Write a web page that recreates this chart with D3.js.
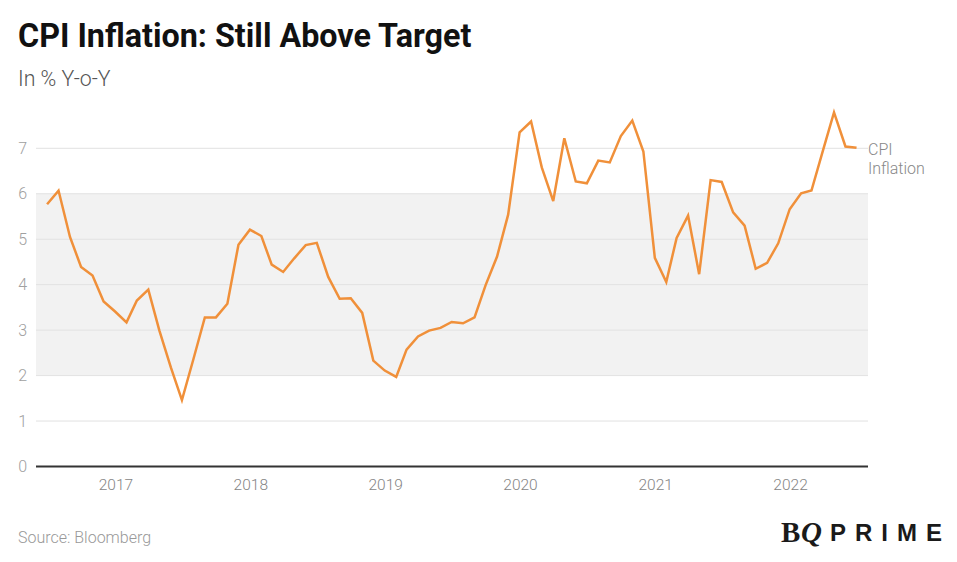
<!DOCTYPE html>
<html>
<head>
<meta charset="utf-8">
<script src="https://cdn.jsdelivr.net/npm/d3@7"></script>
<style>
  html, body { margin: 0; padding: 0; background: #fff; }
  svg { display: block; }
</style>
</head>
<body>
<svg id="chart" width="957" height="562"></svg>
<script>
// ---- Data ----
const months = [
  "2016-06","2016-07","2016-08","2016-09","2016-10","2016-11","2016-12",
  "2017-01","2017-02","2017-03","2017-04","2017-05","2017-06","2017-07","2017-08","2017-09","2017-10","2017-11","2017-12",
  "2018-01","2018-02","2018-03","2018-04","2018-05","2018-06","2018-07","2018-08","2018-09","2018-10","2018-11","2018-12",
  "2019-01","2019-02","2019-03","2019-04","2019-05","2019-06","2019-07","2019-08","2019-09","2019-10","2019-11","2019-12",
  "2020-01","2020-02","2020-03","2020-04","2020-05","2020-06","2020-07","2020-08","2020-09","2020-10","2020-11","2020-12",
  "2021-01","2021-02","2021-03","2021-04","2021-05","2021-06","2021-07","2021-08","2021-09","2021-10","2021-11","2021-12",
  "2022-01","2022-02","2022-03","2022-04","2022-05","2022-06"
];
const cpiInflation = [
  5.77, 6.07, 5.05, 4.39, 4.20, 3.63, 3.41,
  3.17, 3.65, 3.89, 2.99, 2.18, 1.46, 2.36, 3.28, 3.28, 3.58, 4.88, 5.21,
  5.07, 4.44, 4.28, 4.58, 4.87, 4.92, 4.17, 3.69, 3.70, 3.38, 2.33, 2.11,
  1.97, 2.57, 2.86, 2.99, 3.05, 3.18, 3.15, 3.28, 3.99, 4.62, 5.54, 7.35,
  7.59, 6.58, 5.84, 7.22, 6.27, 6.23, 6.73, 6.69, 7.27, 7.61, 6.93, 4.59,
  4.06, 5.03, 5.52, 4.23, 6.30, 6.26, 5.59, 5.30, 4.35, 4.48, 4.91, 5.66,
  6.01, 6.07, 6.95, 7.79, 7.04, 7.01
];
const yTicks = [0, 1, 2, 3, 4, 5, 6, 7];
const xTickYears = [2017, 2018, 2019, 2020, 2021, 2022];
const targetBand = [2, 6];
const seriesName = ["CPI", "Inflation"];
const titleText = "CPI Inflation: Still Above Target";
const subtitleText = "In % Y-o-Y";
const sourceText = "Source: Bloomberg";

// ---- Setup ----
const svg = d3.select("#chart");
const pLeft = 36, pRight = 868, pTop = 148.3, pBottom = 466.5;

// point date = last day of month
const parseMonth = d3.timeParse("%Y-%m");
const dates = months.map(m => d3.timeDay.offset(d3.timeMonth.offset(parseMonth(m), 1), -1));
const data = dates.map((d, i) => ({ date: d, value: cpiInflation[i] }));

const x = d3.scaleTime()
  .domain([new Date(2016, 4, 31), new Date(2022, 6, 31)])
  .range([pLeft, pRight]);
const y = d3.scaleLinear().domain([0, 7]).range([pBottom, pTop]);

const font = "Roboto, 'Noto Sans', sans-serif";

// Title / subtitle
svg.append("text").attr("x", 18).attr("y", 46.5)
  .attr("font-family", font).attr("font-weight", 700).attr("font-size", 32.3)
  .attr("fill", "#111").text(titleText);
svg.append("text").attr("x", 18).attr("y", 85.5)
  .attr("font-family", font).attr("font-weight", 300).attr("font-size", 21.3)
  .attr("fill", "#555").text(subtitleText);

// target band
svg.append("rect")
  .attr("x", pLeft).attr("width", pRight - pLeft)
  .attr("y", y(targetBand[1])).attr("height", y(targetBand[0]) - y(targetBand[1]))
  .attr("fill", "#f2f2f2");

// gridlines
svg.append("g").selectAll("line").data(yTicks.filter(t => t > 0)).join("line")
  .attr("x1", pLeft).attr("x2", pRight)
  .attr("y1", d => y(d)).attr("y2", d => y(d))
  .attr("stroke", "#e2e2e2").attr("stroke-width", 1);

// y labels
const yAxis = d3.axisLeft(y).tickValues(yTicks).tickSize(0).tickPadding(0).tickFormat(d3.format("d"));
const gy = svg.append("g").attr("transform", `translate(27,0)`).call(yAxis);
gy.select(".domain").remove();
gy.selectAll("text").attr("font-family", font).attr("font-weight", 300).attr("font-size", 16).attr("fill", "#a0a0a0");

// x axis
const xAxis = d3.axisBottom(x)
  .tickValues(xTickYears.map(yr => new Date(yr, 0, 1)))
  .tickSize(0).tickPadding(12).tickFormat(d3.timeFormat("%Y"));
const gx = svg.append("g").attr("transform", `translate(0,${pBottom})`).call(xAxis);
gx.select(".domain").remove();
gx.selectAll("text").attr("font-family", font).attr("font-weight", 300).attr("font-size", 15.5).attr("fill", "#858585");

svg.append("line").attr("x1", pLeft).attr("x2", pRight)
  .attr("y1", pBottom).attr("y2", pBottom)
  .attr("stroke", "#333").attr("stroke-width", 2);

// line
const line = d3.line().x(d => x(d.date)).y(d => y(d.value));
svg.append("path").datum(data)
  .attr("d", line)
  .attr("fill", "none")
  .attr("stroke", "#F0903A")
  .attr("stroke-width", 2.5)
  .attr("stroke-linejoin", "miter")
  .attr("stroke-linecap", "butt");

// series label
const last = data[data.length - 1];
const lbl = svg.append("text").attr("x", pRight).attr("y", y(last.value) + 7)
  .attr("font-family", font).attr("font-weight", 300).attr("font-size", 16).attr("fill", "#888");
lbl.selectAll("tspan").data(seriesName).join("tspan")
  .attr("x", pRight).attr("dy", (d, i) => i === 0 ? 0 : 19).text(d => d);

// source
svg.append("text").attr("x", 18).attr("y", 543)
  .attr("font-family", font).attr("font-weight", 300).attr("font-size", 16).attr("fill", "#999").text(sourceText);

// logo
svg.append("text").attr("x", 781).attr("y", 542)
  .attr("font-family", "'Liberation Serif', 'DejaVu Serif', serif").attr("font-weight", 700)
  .attr("font-size", 29).attr("fill", "#1a1a1a").attr("letter-spacing", -2.5).text("B");
svg.append("text").attr("x", 801).attr("y", 542)
  .attr("font-family", "'Liberation Serif', 'DejaVu Serif', serif").attr("font-weight", 700).attr("font-style", "italic")
  .attr("font-size", 29).attr("fill", "#1a1a1a").text("Q");
svg.append("text").attr("x", 830).attr("y", 541)
  .attr("font-family", "'Liberation Sans', Arial, sans-serif").attr("font-weight", 700)
  .attr("font-size", 24).attr("fill", "#1a1a1a").attr("letter-spacing", 9).text("PRIME");
</script>
</body>
</html>
